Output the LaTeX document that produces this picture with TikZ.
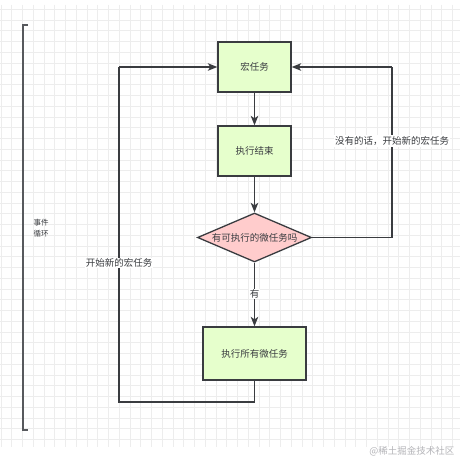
\documentclass[tikz,border=0pt]{standalone}
\usepackage{fontspec}
\newfontfamily\cjk{Noto Sans CJK SC}
\usetikzlibrary{shapes.geometric,arrows.meta}
\definecolor{boxgreen}{HTML}{E6FFCC}
\definecolor{diapink}{HTML}{FFCCCC}
\definecolor{edgec}{HTML}{3A3C40}
\definecolor{gridc}{HTML}{EDEDED}
\definecolor{markc}{HTML}{B4B4B8}
\tikzset{
  task/.style={draw=edgec,fill=boxgreen,line width=1.3pt,text=edgec,
    font=\cjk\fontsize{9.5}{11}\selectfont,inner sep=0pt},
  decide/.style={diamond,draw=edgec,fill=diapink,line width=1.3pt,text=edgec,
    font=\cjk\fontsize{9.5}{11}\selectfont,inner sep=0pt,shape aspect=2.33,
    minimum width=114pt,minimum height=49pt},
  flow/.style={draw=edgec,line width=1.3pt,-{Stealth[length=9.5pt,width=7.5pt,inset=2.5pt]}},
  loop/.style={draw=edgec,line width=1.3pt,line join=miter},
  tag/.style={fill=white,text=edgec,font=\cjk\fontsize{9.5}{11}\selectfont,inner sep=1pt}
}
\begin{document}
\begin{tikzpicture}[x=1pt,y=-1pt]
\useasboundingbox (0,0) rectangle (460,460);
\fill[white] (0,0) rectangle (460,460);

% 背景网格
\foreach \i in {0,...,42}
  \draw[gridc,line width=0.6pt] ({1+10.75*\i},5) -- ({1+10.75*\i},447);
\foreach \j in {0,...,40}
  \draw[gridc,line width=0.6pt] (0,{9.3+10.75*\j}) -- (460,{9.3+10.75*\j});

% 左侧的括号
\draw[edgec!85,line width=2pt] (28,25) -- (23,25) -- (23,430) -- (28,430);
\node[anchor=west,align=left,text=edgec,font=\cjk\fontsize{7.5}{11}\selectfont]
  (loopname) at (30,228) {事件\\循环};

\node[task,minimum width=73pt,minimum height=50pt] (macro) at (254.5,67) {宏任务};
\node[task,minimum width=73pt,minimum height=50pt] (done) at (254.5,151) {执行结束};
\node[decide] (check) at (254.5,237.5) {有可执行的微任务吗};
\node[task,minimum width=103pt,minimum height=53pt] (micro) at (254.5,353.5) {执行所有微任务};

\draw[flow] (macro) -- (done);
\draw[flow] (done) -- (check);
\draw[flow] (check) -- (micro);
\node[tag] (yes) at (254.5,294) {有};

% 执行完微任务，回到宏任务
\coordinate (L1) at (254.5,402);
\coordinate (L2) at (119,402);
\coordinate (L3) at (119,67);
\draw[loop] (micro.south) -- (L1) -- (L2) -- (L3);
\draw[flow] (L3) -- (macro.west);
\node[tag] (newmacro) at (119,263) {开始新的宏任务};

% 没有微任务，回到宏任务
\coordinate (R1) at (392,237.5);
\coordinate (R2) at (392,67);
\draw[loop] (check.east) -- (R1) -- (R2);
\draw[flow] (R2) -- (macro.east);
\node[tag] (nomicro) at (392,141) {没有的话，开始新的宏任务};

\node[anchor=east,text=markc,font=\cjk\fontsize{9.5}{11}\selectfont] (mark) at (458,451) {@稀土掘金技术社区};
\end{tikzpicture}
\end{document}
